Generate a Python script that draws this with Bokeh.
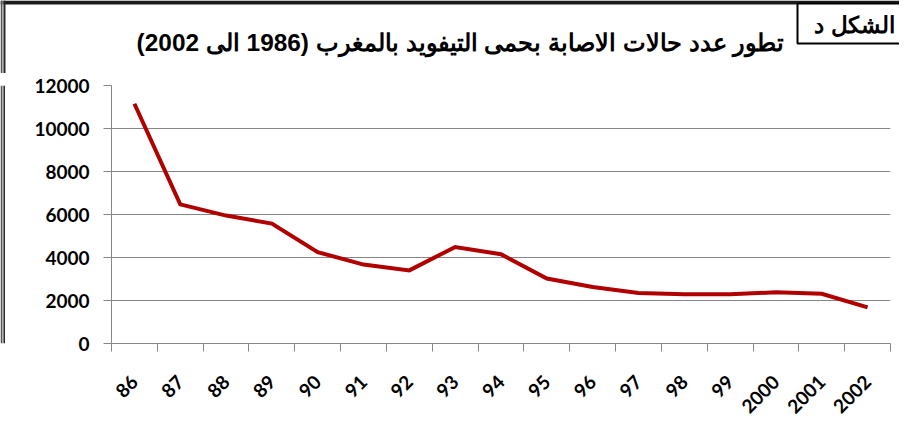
from bokeh.plotting import figure
from bokeh.layouts import column, row
from bokeh.models import Range1d, FixedTicker
from bokeh.core.properties import value
from bokeh.embed import file_html
from bokeh.resources import INLINE
import math

# ---- data ----
years = ["86", "87", "88", "89", "90", "91", "92", "93", "94", "95", "96",
         "97", "98", "99", "2000", "2001", "2002"]
cases = [11150, 6470, 5950, 5580, 4250, 3670, 3400, 4490, 4150, 3020, 2630,
         2350, 2290, 2290, 2380, 2310, 1680]
y_ticks = [0, 2000, 4000, 6000, 8000, 10000, 12000]
title_text = "تطور عدد حالات الاصابة بحمى التيفويد بالمغرب (1986 الى 2002)"
box_text = "الشكل د"

W, H = 899, 431
HEAD = 73          # header height (page pixels 0..73)
STRIP = 5          # left page-frame strip width
BODY = H - HEAD


def blank(width, height, xr, yr):
    f = figure(width=width, height=height, output_backend="svg",
               toolbar_location=None, x_range=xr, y_range=yr,
               x_axis_type=None, y_axis_type=None, min_border=0)
    f.outline_line_color = None
    f.grid.visible = False
    f.background_fill_color = "white"
    f.border_fill_color = "white"
    return f


# ---- header: title, corner box, page frame top ----
head = blank(W, HEAD, Range1d(0, W), Range1d(HEAD, 0))
head.quad(left=[0], right=[W], top=[0], bottom=[4], fill_color="#1a1a1a", line_color=None)
head.quad(left=[0], right=[2], top=[0], bottom=[HEAD], fill_color="#555555", line_color=None)
head.quad(left=[2], right=[3], top=[0], bottom=[HEAD], fill_color="#bbbbbb", line_color=None)
head.quad(left=[3], right=[5], top=[0], bottom=[HEAD], fill_color="#2a2a2a", line_color=None)
head.quad(left=[797], right=[W + 10], top=[3], bottom=[43], fill_color="white",
          line_color="black", line_width=2)
head.text(x=[460], y=[42], text=[title_text], text_align="center",
          text_baseline="middle", text_font=value("Liberation Sans"),
          text_font_style="bold", text_font_size="24.4px", text_color="black")
head.text(x=[854], y=[24], text=[box_text], text_align="center",
          text_baseline="middle", text_font=value("Liberation Sans"),
          text_font_style="bold", text_font_size="23px", text_color="black")

# ---- left page-frame strip ----
strip = blank(STRIP, BODY, Range1d(0, STRIP), Range1d(0, BODY))
strip.quad(left=[0], right=[2], top=[BODY], bottom=[0], fill_color="#555555", line_color=None)
strip.quad(left=[2], right=[3], top=[BODY], bottom=[0], fill_color="#bbbbbb", line_color=None)
strip.quad(left=[3], right=[5], top=[BODY], bottom=[0], fill_color="#2a2a2a", line_color=None)

# ---- chart ----
FL, FR, FT, FB = 111, 890, 85, 343      # frame edges in page pixels
p = figure(width=W - STRIP, height=BODY, output_backend="svg", toolbar_location=None,
           x_range=Range1d(0, len(years)), y_range=Range1d(0, 12000),
           min_border_left=FL - STRIP, min_border_right=W - FR,
           min_border_top=FT - HEAD, min_border_bottom=H - FB)
p.outline_line_color = None
p.background_fill_color = "white"
p.border_fill_color = "white"

xs = [i + 0.5 for i in range(len(years))]
p.line(xs, cases, line_color="#b00000", line_width=4, line_join="miter")

grey = "#868686"
p.xaxis.ticker = FixedTicker(ticks=xs, minor_ticks=list(range(len(years) + 1)))
p.xaxis.major_label_overrides = {x: y for x, y in zip(xs, years)}
p.xaxis.major_tick_out = 0
p.xaxis.major_tick_in = 0
p.xaxis.minor_tick_out = 8
p.xaxis.minor_tick_in = 0
p.xaxis.minor_tick_line_color = grey
p.xaxis.axis_line_color = grey
p.xaxis.major_label_orientation = math.pi / 4
p.xaxis.major_label_standoff = 27
p.xaxis.major_label_text_font = "Lato"
p.xaxis.major_label_text_font_style = "bold"
p.xaxis.major_label_text_font_size = "19px"
p.xaxis.major_label_text_color = "black"
p.xgrid.visible = False

p.yaxis.ticker = FixedTicker(ticks=y_ticks, minor_ticks=[])
p.yaxis.major_tick_out = 8
p.yaxis.major_tick_in = 0
p.yaxis.major_tick_line_color = grey
p.yaxis.axis_line_color = grey
p.yaxis.major_label_standoff = 14
p.yaxis.major_label_text_font = "Lato"
p.yaxis.major_label_text_font_style = "bold"
p.yaxis.major_label_text_font_size = "19px"
p.yaxis.major_label_text_color = "black"
p.ygrid.grid_line_color = grey
p.ygrid.grid_line_width = 1

layout = column(head, row(strip, p))
open("out.html", "w").write(file_html(layout, INLINE))
